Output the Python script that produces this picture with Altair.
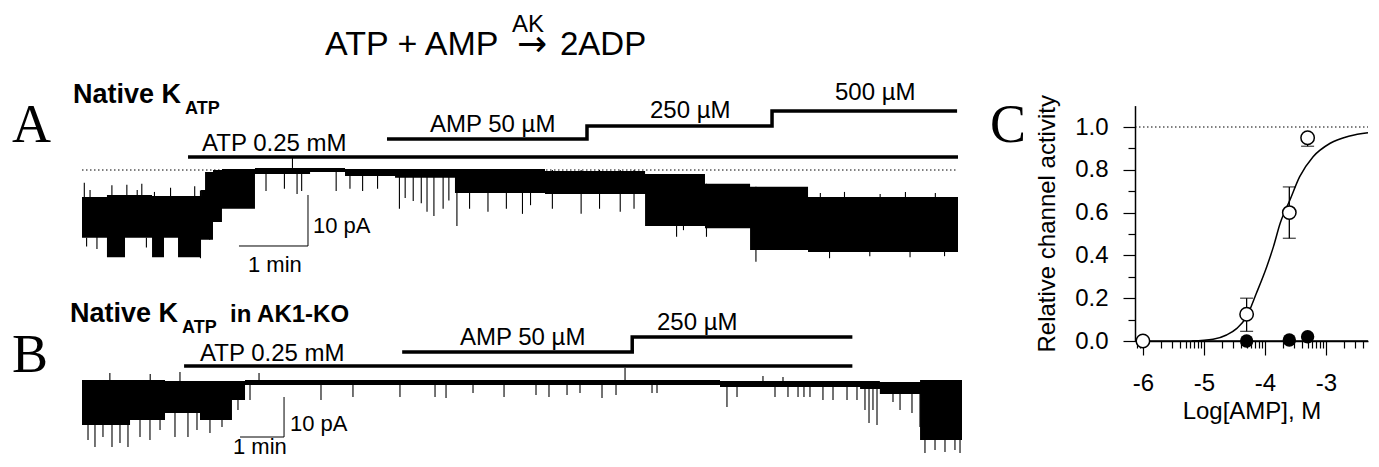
import altair as alt
import numpy as np
import pandas as pd

# ---------------- values ----------------
# Panel A: single-channel current trace (time s, current pA; 0 pA = dotted line)
a_time = [0, 21.7, 37.4, 60.9, 71.3, 83.5, 103.5, 107.0, 113.9, 121.7, 150.4, 198.3,
          228.7, 272.2, 324.3, 402.6, 489.6, 541.7, 580.9, 631.3, 761.7]
a_upper = [-5.3, -4.9, -4.9, -5.1, -5.1, -5.1, -3.9, -0.4, 0, 0.2, 0.4, 0.4,
           0.2, 0.2, 0.2, -0.2, -0.8, -2.7, -3.3, -5.3, -5.3]
a_lower = [-13.3, -17.1, -13.3, -17.1, -13.3, -17.1, -13.7, -13.7, -10.2, -7.6, -0.8, -0.4,
           -1.2, -1.5, -4.5, -4.7, -11.0, -11.4, -15.7, -16.1, -16.1]
a_spike_time = [7, 13, 39, 48, 63, 103, 111, 160, 176, 183, 187, 191, 221, 233, 244, 257,
                276, 288, 300, 314, 326, 337, 353, 369, 383, 390, 409, 434, 450, 468, 480,
                517, 523, 543, 586, 642, 650, 663, 685, 694, 716, 720, 742, 750,
                4, 30, 56, 95, 281, 295, 306, 319, 2, 26, 52, 77, 98]
a_spike_from = [-5.3, -5.3, -4.9, -4.9, -5.1, -4.0, -0.4, 0.2, 0.2, 0.4, 0.2, 0.2, 0.2, 0.2,
                0.2, 0.2, 0.2, 0.2, 0.2, 0.2, 0.2, 0.2, 0.2, 0.2, 0.2, 0.2, 0, 0, 0, 0, 0,
                -1, -1, -2.7, -3.3, -5.3, -5.3, -5.3, -5.3, -5.3, -5.3, -5.3, -5.3, -5.3,
                -13.3, -13.3, -13.3, -13.3, 0.2, 0.2, 0.2, 0.2, -5.3, -4.9, -5.1, -5.1, -5.1]
a_spike_to = [-3.9, -15.5, -2.9, -3.9, -4.3, -17.3, -13.7, -4.1, -3.7, 2.5, -4.7, -4.1, -4.1,
              -3.7, -4.1, -3.7, -7.6, -6.1, -8.2, -7.6, -11.0, -7.6, -8.2, -7.6, -8.6, -6.9,
              -7.6, -8.6, -7.6, -8.2, -7.6, -13.1, -11.8, -13.1, -18.0, -4.5, -17.3, -4.3,
              -16.9, -4.7, -4.3, -17.1, -4.5, -16.9,
              -15.0, -14.5, -15.2, -15.8, -5.5, -6.5, -9.0, -6.0, -2.5, -3.0, -2.7, -3.5, -3.2]
a_atp_time = [92.2, 761.7]
a_amp_time = [265.2, 439.1, 600.0, 760.9]
a_amp_level = [1, 2, 3, 3]          # 50, 250, 500 uM
a_bar_time, a_bar_top = 196.5, -4.9  # 1 min / 10 pA calibration

# Panel B: AK1-KO trace
b_time = [0, 65.5, 113.2, 160.9, 204.5, 222.3, 706.4, 870.0, 1061, 1088, 1142.8, 1200]
b_upper = [0.5, 0.5, 0.25, 0.25, 0.25, 0.5, 0.5, 0.25, 0.25, 0, 0.5, 0.5]
b_lower = [-10.75, -9.5, -7.75, -9.5, -4.5, -0.75, -0.75, -1.25, -1.75, -3.0, -14.5, -14.5]
b_spike_time = [8.2, 17.7, 28.6, 40.9, 51.8, 62.7, 79.1, 92.7, 106.4, 126.8, 144.5, 156.8,
                174.5, 190.9, 212.7, 229.1, 325.9, 369.5, 433.6, 481.4, 496.4, 533.2, 575.5,
                619.1, 636.8, 661.4, 679.1, 709.1, 728.2, 777.3, 784.1, 879.5, 893.2, 945.0,
                962.7, 976.4, 984.5, 992.7, 1010.4, 1024.1, 1043.2, 1056.8, 1067.7, 1073.2,
                1078.6, 1084.1, 1105.9, 1115.5, 1131.8, 1142.7, 1149.5, 1163.2, 1176.8,
                1190.4, 1197.3, 38, 93, 133.6, 241.4, 740.5, 928.6, 955.9]
b_spike_to = [-14.5, -16.25, -13.75, -16.25, -15.25, -16.25, -13.75, -14.5, -12, -13.75,
              -13.75, -12, -12.75, -11.25, -7, -4.5, -4.5, -3.75, -3.75, -3.75, -4, -2.75,
              -3.75, -3.25, -3.75, -3.25, -2.75, -4, -3.25, -2.75, -2.75, -6.25, -3.75, -3.75,
              -3.75, -3.75, -3.75, -3.75, -4.5, -4.5, -4.5, -4.5, -7, -10.25, -7, -10.75, -5,
              -7, -7.75, -11.25, -17.75, -17, -17.5, -17, -17.75,
              2.25, 2.0, 2.5, 2.25, 3.5, 1.5, 1.25]
b_atp_time = [139.2, 1050.5]
b_amp_time = [436.6, 750.3, 1050.5]
b_amp_level = [1, 2, 2]
b_bar_time, b_bar_top = 275.5, -3.75

# Panel C: relative channel activity vs log[AMP]
c_log_wt = [-6.0, -4.3, -3.6, -3.3]
c_act_wt = [0.0, 0.125, 0.60, 0.95]
c_lo_wt = [0.0, 0.045, 0.48, 0.91]
c_hi_wt = [0.0, 0.20, 0.72, 0.95]
c_log_ko = [-4.3, -3.6, -3.3]
c_act_ko = [0.0, 0.005, 0.02]
fit_log = [-5.2, -4.85, -4.63, -4.46, -4.30, -4.14, -3.97, -3.86, -3.75, -3.59, -3.43,
           -3.21, -2.93, -2.61, -2.31]
fit_act = [0.0, 0.008, 0.028, 0.059, 0.114, 0.223, 0.347, 0.441, 0.55, 0.659, 0.768,
           0.861, 0.924, 0.958, 0.973]
c_x_major = [-6, -5, -4, -3]
c_y_major = [0, 0.2, 0.4, 0.6, 0.8, 1.0]
c_y_minor = [0.1, 0.3, 0.5, 0.7, 0.9]

# ---------------- scales ----------------
FONT = "Liberation Sans"
SERIF = "Liberation Serif"


def sc(domain, rng):
    return alt.Scale(domain=domain, range=rng, nice=False, zero=False)


AX = sc([0, 761.7], [74, 950])
AY = sc([-20, 0], [264, 162])
AP = sc([0, 1, 2, 3], [149, 131, 118, 103])
BX = sc([0, 1200], [74, 954])
BY = sc([-20, 0], [454, 374])
BP = sc([0, 1, 2], [358, 344, 329])
CX_DOM = [-6.13, -2.31]
CX = sc(CX_DOM, [1127, 1360])
CY = sc([0, 1.1], [333, 97.6])

layers = []


def trace_layers(t, up, lo, st, sf, sto, xs, ys):
    df = pd.DataFrame({"t": t, "up": up, "lo": lo})
    area = alt.Chart(df).mark_area(color="black", interpolate="step-after").encode(
        x=alt.X("t:Q", scale=xs, axis=None),
        y=alt.Y("up:Q", scale=ys, axis=None),
        y2="lo:Q")
    ds = pd.DataFrame({"t": st, "a": sf, "b": sto})
    spikes = alt.Chart(ds).mark_rule(color="black", strokeWidth=1.1).encode(
        x=alt.X("t:Q", scale=xs, axis=None),
        y=alt.Y("a:Q", scale=ys, axis=None),
        y2="b:Q")
    return [area, spikes]


def protocol_layers(atp_t, amp_t, amp_lvl, xs, ps):
    d1 = pd.DataFrame({"t": atp_t, "lvl": [0] * len(atp_t)})
    d2 = pd.DataFrame({"t": amp_t, "lvl": amp_lvl})
    out = []
    for d in (d1, d2):
        out.append(alt.Chart(d).mark_line(color="black", strokeWidth=3.5,
                                          interpolate="step-after").encode(
            x=alt.X("t:Q", scale=xs, axis=None),
            y=alt.Y("lvl:Q", scale=ps, axis=None)))
    return out


def calib_layer(t, top, xs, ys):
    d = pd.DataFrame({"x1": [t, t - 60], "x2": [t, t],
                      "y1": [top, top - 10], "y2": [top - 10, top - 10]})
    return alt.Chart(d).mark_rule(color="black", strokeWidth=1).encode(
        x=alt.X("x1:Q", scale=xs, axis=None), x2="x2:Q",
        y=alt.Y("y1:Q", scale=ys, axis=None), y2="y2:Q")


def label(s, x, y, size=24, font=FONT, weight="normal", align="left"):
    return alt.Chart(pd.DataFrame({"s": [s]})).mark_text(
        font=font, fontSize=size, fontWeight=weight, align=align,
        baseline="alphabetic", color="black").encode(
        x=alt.value(x), y=alt.value(y), text="s:N")


# Panel A
layers += trace_layers(a_time, a_upper, a_lower, a_spike_time, a_spike_from, a_spike_to, AX, AY)
layers.append(alt.Chart(pd.DataFrame({"t0": [a_time[0]], "t1": [a_time[-1]], "z": [0]}))
              .mark_rule(color="black", strokeWidth=1, strokeDash=[1.5, 2.5]).encode(
    x=alt.X("t0:Q", scale=AX, axis=None), x2="t1:Q",
    y=alt.Y("z:Q", scale=AY, axis=None)))
layers.append(calib_layer(a_bar_time, a_bar_top, AX, AY))
layers += protocol_layers(a_atp_time, a_amp_time, a_amp_level, AX, AP)

# Panel B
layers += trace_layers(b_time, b_upper, b_lower, b_spike_time, [0] * len(b_spike_time),
                       b_spike_to, BX, BY)
layers.append(calib_layer(b_bar_time, b_bar_top, BX, BY))
layers += protocol_layers(b_atp_time, b_amp_time, b_amp_level, BX, BP)

# Panel C
x_minor = [d + np.log10(k) for d in range(-7, -2) for k in range(2, 10)]
x_minor = [v for v in x_minor if CX_DOM[0] <= v <= CX_DOM[1]]
axis_common = dict(domainColor="black", tickColor="black", labelColor="black",
                   titleColor="black", grid=False, labelFont=FONT, titleFont=FONT,
                   labelFontSize=24, titleFontSize=24, titleFontWeight="normal",
                   tickWidth=1.2, domainWidth=1.5)

fit = alt.Chart(pd.DataFrame({"x": fit_log, "y": fit_act})).mark_line(
    color="black", strokeWidth=1.5, interpolate="monotone").encode(
    x=alt.X("x:Q", scale=CX, axis=None), y=alt.Y("y:Q", scale=CY, axis=None))
zero = alt.Chart(pd.DataFrame({"x": CX_DOM, "y": [0, 0]})).mark_line(
    color="black", strokeWidth=1.5).encode(
    x=alt.X("x:Q", scale=CX, axis=alt.Axis(orient="bottom", offset=-118, values=x_minor,
                                           tickSize=7, labels=False, domain=False,
                                           title=None, **axis_common)),
    y=alt.Y("y:Q", scale=CY, axis=alt.Axis(orient="left", offset=-1127, values=c_y_minor,
                                           tickSize=7, labels=False, domain=False,
                                           title=None, **axis_common)))
unity = alt.Chart(pd.DataFrame({"x": CX_DOM, "y": [1, 1]})).mark_line(
    color="black", strokeWidth=1, strokeDash=[1.5, 2.5]).encode(
    x=alt.X("x:Q", scale=CX, axis=None), y=alt.Y("y:Q", scale=CY, axis=None))
dwt = pd.DataFrame({"x": c_log_wt, "y": c_act_wt, "lo": c_lo_wt, "hi": c_hi_wt})
err = alt.Chart(dwt).mark_rule(color="black", strokeWidth=1.3).encode(
    x=alt.X("x:Q", scale=CX, axis=None), y=alt.Y("lo:Q", scale=CY, axis=None), y2="hi:Q")
cap_lo = alt.Chart(dwt).mark_tick(color="black", orient="horizontal", size=13,
                                  thickness=1.3).encode(
    x=alt.X("x:Q", scale=CX, axis=None), y=alt.Y("lo:Q", scale=CY, axis=None))
cap_hi = alt.Chart(dwt).mark_tick(color="black", orient="horizontal", size=13,
                                  thickness=1.3).encode(
    x=alt.X("x:Q", scale=CX, axis=None), y=alt.Y("hi:Q", scale=CY, axis=None))
ko = alt.Chart(pd.DataFrame({"x": c_log_ko, "y": c_act_ko})).mark_point(
    shape="circle", filled=True, color="black", size=180, opacity=1).encode(
    x=alt.X("x:Q", scale=CX, axis=None), y=alt.Y("y:Q", scale=CY, axis=None))
wt = alt.Chart(dwt).mark_point(shape="circle", filled=True, fill="white", stroke="black",
                               strokeWidth=1.5, size=180, opacity=1).encode(
    x=alt.X("x:Q", scale=CX, axis=alt.Axis(
        orient="bottom", offset=-118, values=c_x_major, tickSize=14,
        labelExpr="'-' + format(abs(datum.value), 'd')", labelPadding=16,
        title="Log[AMP], M", titlePadding=4, domain=True, **axis_common)),
    y=alt.Y("y:Q", scale=CY, axis=alt.Axis(
        orient="left", offset=-1127, values=c_y_major, tickSize=12, format=".1f",
        labelPadding=15, title="Relative channel activity", titlePadding=15,
        domain=True, **axis_common)))
layers += [fit, zero, unity, err, cap_lo, cap_hi, ko, wt]

# Text
layers += [
    label("ATP + AMP", 317, 47, 34),
    label("\u2192", 524, 48, 36, font="DejaVu Sans", align="center"),
    label("AK", 520, 24, 24, align="center"),
    label("2ADP", 552, 47, 33),
    label("A", 4, 134, 54, font=SERIF),
    label("B", 4, 364, 54, font=SERIF),
    label("C", 982, 134, 54, font=SERIF),
    label("Native K", 65, 95, 27, weight="bold"),
    label("ATP", 177, 106, 18, weight="bold"),
    label("Native K", 62, 314, 27, weight="bold"),
    label("ATP", 174, 325, 18, weight="bold"),
    label("in AK1-KO", 222, 314, 24, weight="bold"),
    label("ATP 0.25 mM", 194, 143),
    label("AMP 50 \u00b5M", 422, 124),
    label("250 \u00b5M", 642, 110),
    label("500 \u00b5M", 827, 92),
    label("ATP 0.25 mM", 192, 353),
    label("AMP 50 \u00b5M", 452, 337),
    label("250 \u00b5M", 649, 322),
    label("10 pA", 305, 225, 22),
    label("1 min", 240, 264, 22),
    label("10 pA", 282, 423, 22),
    label("1 min", 225, 446, 22),
]

chart = alt.layer(*layers).resolve_scale(x="independent", y="independent").properties(
    width=1363, height=451, padding=0,
    autosize=alt.AutoSizeParams(type="none"),
).configure_view(stroke=None)

chart.save("out.html", embed_options={"renderer": "svg", "actions": False})
